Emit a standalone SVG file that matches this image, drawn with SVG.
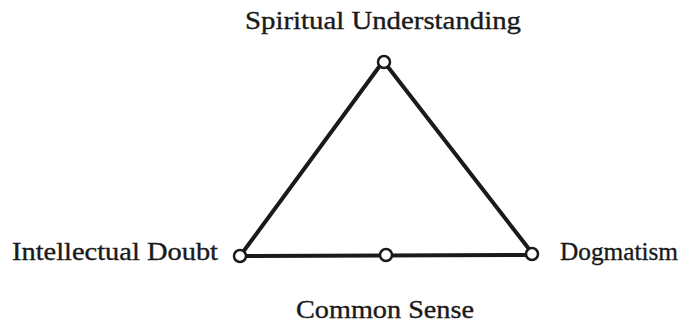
<svg xmlns="http://www.w3.org/2000/svg" width="690" height="327" viewBox="0 0 690 327">
<style>
.lbl{font-family:"Liberation Serif","Times New Roman",serif;font-size:25px;fill:#1a1a1a;stroke:#1a1a1a;stroke-width:0.35}
.edge{stroke:#1a1a1a;stroke-width:4;stroke-linecap:round;fill:none}
.node{fill:#fff;stroke:#1a1a1a;stroke-width:2.5}
</style>
<rect width="690" height="327" fill="#fff"/>
<g id="connectors">
<line class="edge" x1="379" y1="67" x2="243" y2="252"/>
<line class="edge" x1="388" y1="67" x2="529" y2="249"/>
<line class="edge" x1="246" y1="256" x2="527" y2="255"/>
</g>
<g id="spiritual">
<circle class="node" cx="384" cy="62" r="6"/>
<text class="lbl" x="383" y="29" text-anchor="middle" textLength="276" lengthAdjust="spacingAndGlyphs">Spiritual Understanding</text>
</g>
<g id="doubt">
<circle class="node" cx="240" cy="256" r="6"/>
<text class="lbl" x="12" y="260" textLength="206" lengthAdjust="spacingAndGlyphs">Intellectual Doubt</text>
</g>
<g id="dogmatism">
<circle class="node" cx="532" cy="254" r="6"/>
<text class="lbl" x="560" y="260" textLength="118" lengthAdjust="spacingAndGlyphs">Dogmatism</text>
</g>
<g id="common">
<circle class="node" cx="386" cy="255" r="6"/>
<text class="lbl" x="296" y="318" textLength="178" lengthAdjust="spacingAndGlyphs">Common Sense</text>
</g>
</svg>
